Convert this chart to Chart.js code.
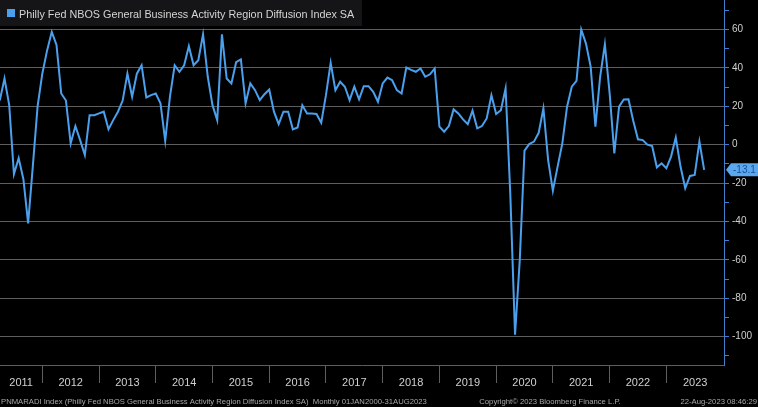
<!DOCTYPE html>
<html><head><meta charset="utf-8">
<script src="https://cdn.jsdelivr.net/npm/chart.js@4/dist/chart.umd.min.js"></script>
<style>html,body{margin:0;padding:0;background:#000;overflow:hidden}#wrap{width:758px;height:407px;position:relative}</style>
</head><body><div id="wrap"><canvas id="c" width="758" height="407"></canvas></div>
<script>
// ---------- data ----------
const seriesName = 'Philly Fed NBOS General Business Activity Region Diffusion Index SA';
const years = [2011, 2012, 2013, 2014, 2015, 2016, 2017, 2018, 2019, 2020, 2021, 2022, 2023];
const firstMonth = 2; // first visible observation: March 2011 (0-based month)
const v2011 = [23, 34.5, 20.6, -15.3, -7, -18, -41, -11, 20, 37];
const v2012 = [49, 58.8, 52, 26.7, 23, 0.7, 9.7, 2.4, -5.4, 15.4, 15.4, 16.3];
const v2013 = [17.2, 8, 12.8, 17.2, 23, 37, 25, 37, 41.4, 24.6, 25.8, 26.7];
const v2014 = [21.5, 2, 25, 41.4, 38, 41.4, 51.3, 41.4, 44, 57.5, 35.4, 20.6];
const v2015 = [12.8, 57.5, 34.5, 31.9, 43, 44.4, 21.5, 31.9, 28.4, 23.2, 26.3, 28.8];
const v2016 = [17.2, 10.7, 17.2, 17.2, 8, 9, 20.6, 16.3, 16.3, 16, 11.4, 25.8];
const v2017 = [42.6, 28.4, 32.8, 30.2, 23.2, 30.2, 23.6, 30.5, 30.5, 27.6, 22.4, 31.9];
const v2018 = [35, 33.6, 28.4, 26.7, 40.2, 39, 38, 39.7, 35.4, 36.7, 39.7, 9.4];
const v2019 = [6.8, 9.7, 18.4, 16.3, 13.2, 10.7, 17.7, 8.5, 9.7, 13.7, 25.8, 16];
const v2020 = [18, 29.3, -26, -99, -60, -3.1, 0.3, 1.6, 6.2, 18.9, -8, -24];
const v2021 = [-11.4, 0.7, 19.8, 30.2, 33.3, 60, 52.7, 40.6, 9.4, 35.4, 52.3, 27];
const v2022 = [-4.5, 19.8, 23.6, 23.7, 12.5, 2.8, 2.4, 0, -0.7, -11.8, -9.7, -12.3];
const v2023 = [-6.2, 3.8, -11.4, -22.7, -16.3, -15.8, 1.6, -13.1];
const valuesByYear = [v2011, v2012, v2013, v2014, v2015, v2016, v2017, v2018, v2019, v2020, v2021, v2022, v2023];
const yTickValues = [-100, -80, -60, -40, -20, 0, 20, 40, 60];
const footerLeft = 'PNMARADI Index (Philly Fed NBOS General Business Activity Region Diffusion Index SA)  Monthly 01JAN2000-31AUG2023';
const footerMid = 'Copyright\u00A9 2023 Bloomberg Finance L.P.';
const footerRight = '22-Aug-2023 08:46:29';

// ---------- build points (month-end positions, months since Jan 2011) ----------
const points = [];
years.forEach((yr, i) => {
  const start = i === 0 ? firstMonth : 0;
  valuesByYear[i].forEach((v, k) => points.push({x: (yr - years[0]) * 12 + start + k + 1, y: v}));
});
const lastValue = points[points.length - 1].y;

const X_MIN = 3.05, X_MAX = 156.2;
const xTicks = [(X_MIN + 12) / 2];
for (let i = 1; i < years.length; i++) {
  xTicks.push(12 * i);
  xTicks.push(i === years.length - 1 ? (12 * i + X_MAX) / 2 : 12 * i + 6);
}
const yAllTicks = [];
for (let v = -110; v <= 70; v += 10) yAllTicks.push(v);

const LINE = '#4ba0ee';
const AXIS_BLUE = '#3f7fcc';

const decor = {
  id: 'decor',
  beforeDraw(chart) {
    const ctx = chart.ctx;
    ctx.save();
    ctx.fillStyle = '#000';
    ctx.fillRect(0, 0, chart.width, chart.height);
    ctx.restore();
  },
  afterDraw(chart) {
    const ctx = chart.ctx;
    ctx.save();
    // legend
    ctx.fillStyle = '#151517';
    ctx.fillRect(0, 0, 362, 26);
    ctx.fillStyle = LINE;
    ctx.fillRect(7, 9, 8, 8);
    ctx.fillStyle = '#d4d4d4';
    ctx.font = '10.8px "Liberation Sans"';
    ctx.textBaseline = 'alphabetic';
    ctx.textAlign = 'left';
    ctx.fillText(chart.data.datasets[0].label, 19, 17.5);
    // last value tag
    const ys = chart.scales.y;
    const yy = ys.getPixelForValue(lastValue);
    const xr = chart.chartArea.right + 2;
    ctx.fillStyle = '#5aa9f0';
    ctx.beginPath();
    ctx.moveTo(xr, yy);
    ctx.lineTo(xr + 5, yy - 6.5);
    ctx.lineTo(chart.width, yy - 6.5);
    ctx.lineTo(chart.width, yy + 6.5);
    ctx.lineTo(xr + 5, yy + 6.5);
    ctx.closePath();
    ctx.fill();
    ctx.fillStyle = '#1c4f94';
    ctx.font = '10px "Liberation Sans"';
    ctx.textBaseline = 'middle';
    ctx.fillText(lastValue.toFixed(1), xr + 7, yy + 0.5);
    // footer
    ctx.fillStyle = '#a8a8a8';
    ctx.font = '7.7px "Liberation Sans"';
    ctx.textBaseline = 'alphabetic';
    ctx.textAlign = 'left';
    ctx.fillText(footerLeft, 1, 404);
    ctx.textAlign = 'center';
    ctx.fillText(footerMid, 550, 404);
    ctx.textAlign = 'right';
    ctx.fillText(footerRight, 757, 404);
    ctx.restore();
  }
};

new Chart(document.getElementById('c'), {
  type: 'line',
  data: {
    datasets: [{
      label: seriesName,
      data: points,
      borderColor: LINE,
      backgroundColor: LINE,
      borderWidth: 2,
      pointRadius: 0,
      tension: 0,
      fill: false
    }]
  },
  options: {
    responsive: false,
    animation: false,
    devicePixelRatio: 1,
    layout: {padding: 0},
    plugins: {legend: {display: false}, tooltip: {enabled: false}},
    scales: {
      x: {
        type: 'linear', position: 'bottom', min: X_MIN, max: X_MAX,
        afterBuildTicks: s => { s.ticks = xTicks.map(v => ({value: v})); },
        afterFit: s => { s.height = 42; s.paddingLeft = 0; s.paddingRight = 0; },
        grid: {
          drawOnChartArea: false, drawTicks: true, tickLength: 18, tickWidth: 1,
          tickColor: c => (c.tick && c.tick.value % 12 === 0) ? '#5e5e5e' : 'rgba(0,0,0,0)'
        },
        border: {display: true, color: '#5e5e5e', width: 1},
        ticks: {
          autoSkip: false, maxRotation: 0, minRotation: 0, padding: -7,
          color: '#d0d0d0', font: {family: 'Liberation Sans', size: 11},
          callback: v => v % 12 === 0 ? '' : String(years[0] + Math.floor(v / 12))
        }
      },
      y: {
        type: 'linear', position: 'right', min: -114.8, max: 75.4,
        afterBuildTicks: s => { s.ticks = yAllTicks.map(v => ({value: v})); },
        afterFit: s => { s.width = 34; s.paddingTop = 0; s.paddingBottom = 0; },
        grid: {
          drawOnChartArea: true, drawTicks: true, tickLength: 5,
          color: c => (c.tick && yTickValues.includes(c.tick.value)) ? '#5e5e5e' : 'rgba(0,0,0,0)',
          tickColor: AXIS_BLUE
        },
        border: {display: true, color: AXIS_BLUE, width: 1},
        ticks: {
          autoSkip: false, padding: 3, color: '#d0d0d0',
          font: {family: 'Liberation Sans', size: 10},
          callback: v => yTickValues.includes(v) ? String(v) : ''
        }
      }
    }
  },
  plugins: [decor]
});
</script>
</body></html>
